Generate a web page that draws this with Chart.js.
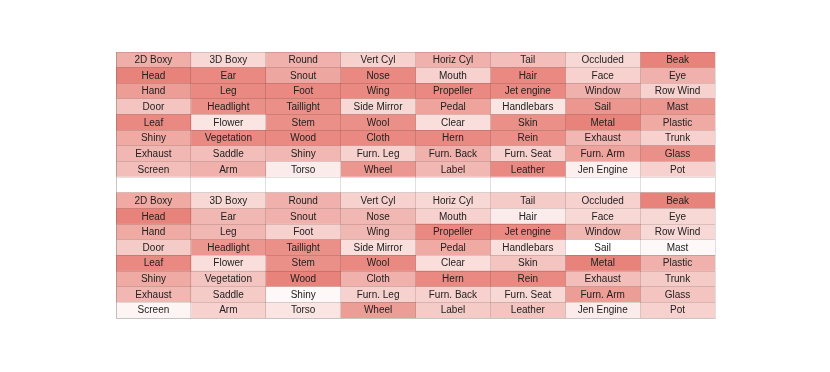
<!DOCTYPE html>
<html>
<head>
<meta charset="utf-8">
<script src="https://cdn.jsdelivr.net/npm/chart.js@4/dist/chart.umd.min.js"></script>
<style>
html,body{margin:0;padding:0;background:#fff;}
#wrap{width:830px;height:372px;}
</style>
</head>
<body>
<div id="wrap"><canvas id="c" width="830" height="372"></canvas></div>
<script>
// ---- DATA ----
const topLabels = [
  ["2D Boxy","3D Boxy","Round","Vert Cyl","Horiz Cyl","Tail","Occluded","Beak"],
  ["Head","Ear","Snout","Nose","Mouth","Hair","Face","Eye"],
  ["Hand","Leg","Foot","Wing","Propeller","Jet engine","Window","Row Wind"],
  ["Door","Headlight","Taillight","Side Mirror","Pedal","Handlebars","Sail","Mast"],
  ["Leaf","Flower","Stem","Wool","Clear","Skin","Metal","Plastic"],
  ["Shiny","Vegetation","Wood","Cloth","Hern","Rein","Exhaust","Trunk"],
  ["Exhaust","Saddle","Shiny","Furn. Leg","Furn. Back","Furn. Seat","Furn. Arm","Glass"],
  ["Screen","Arm","Torso","Wheel","Label","Leather","Jen Engine","Pot"]
];
const topValues = [
  [0.62,0.30,0.60,0.35,0.60,0.50,0.30,0.95],
  [0.95,0.90,0.68,0.90,0.35,0.90,0.35,0.60],
  [0.75,0.90,0.90,0.90,0.90,0.90,0.60,0.35],
  [0.45,0.85,0.85,0.30,0.70,0.20,0.80,0.80],
  [0.90,0.20,0.85,0.85,0.25,0.85,0.95,0.65],
  [0.65,0.90,0.90,0.90,0.90,0.85,0.55,0.35],
  [0.55,0.50,0.55,0.35,0.60,0.35,0.70,0.85],
  [0.50,0.60,0.15,0.80,0.55,0.90,0.12,0.35]
];
const bottomLabels = topLabels;
const bottomValues = [
  [0.65,0.30,0.60,0.35,0.30,0.40,0.35,0.95],
  [0.95,0.55,0.60,0.55,0.35,0.15,0.30,0.30],
  [0.65,0.55,0.35,0.55,0.90,0.90,0.55,0.30],
  [0.40,0.80,0.85,0.25,0.65,0.25,0.00,0.05],
  [0.90,0.25,0.85,0.90,0.25,0.45,0.95,0.60],
  [0.65,0.45,0.95,0.60,0.90,0.90,0.50,0.40],
  [0.55,0.40,0.05,0.35,0.35,0.30,0.75,0.45],
  [0.08,0.35,0.20,0.75,0.40,0.45,0.15,0.35]
];

// ---- BUILD ----
const NCOL = 8;
const lowColor = [255,255,255];
const highColor = [230,124,115];
function shade(v){
  const c = lowColor.map((l,i)=>Math.round(l + (highColor[i]-l)*v));
  return `rgb(${c[0]},${c[1]},${c[2]})`;
}
// rows: top 8, blank, bottom 8
const rowLabels = [];
const rowValues = [];
topLabels.forEach((r,i)=>{rowLabels.push(r); rowValues.push(topValues[i]);});
rowLabels.push(new Array(NCOL).fill("")); rowValues.push(new Array(NCOL).fill(0));
bottomLabels.forEach((r,i)=>{rowLabels.push(r); rowValues.push(bottomValues[i]);});
const rowIds = rowLabels.map((_,i)=>"r"+i);

const datasets = [];
for(let c=0;c<NCOL;c++){
  datasets.push({
    data: rowIds.map(()=>[c,c+1]),
    backgroundColor: rowValues.map(r=>shade(r[c])),
    borderWidth: 0,
    barPercentage: 1,
    categoryPercentage: 1
  });
}

const textPlugin = {
  id:'cellText',
  afterDraw(chart){
    const ctx = chart.ctx, xs = chart.scales.x, ys = chart.scales.y;
    ctx.save();
    ctx.font = '10px "Liberation Sans", Arial, sans-serif';
    ctx.fillStyle = '#222';
    ctx.textAlign = 'center';
    ctx.textBaseline = 'middle';
    rowLabels.forEach((r,ri)=>{
      const y = ys.getPixelForValue(ri);
      r.forEach((t,ci)=>{
        if(!t) return;
        const x = xs.getPixelForValue(ci+0.5);
        ctx.fillText(t, x, y+0.5);
      });
    });
    ctx.restore();
  }
};

const gridColor = 'rgba(0,0,0,0.12)';
new Chart(document.getElementById('c'),{
  type:'bar',
  data:{labels:rowIds, datasets},
  options:{
    indexAxis:'y',
    responsive:false,
    animation:false,
    devicePixelRatio:1,
    layout:{padding:{left:116,right:115,top:52,bottom:54}},
    plugins:{legend:{display:false},tooltip:{enabled:false}},
    scales:{
      x:{type:'linear',min:0,max:NCOL,
         ticks:{display:false,stepSize:1},
         grid:{color:gridColor,drawTicks:false,z:1},
         border:{color:gridColor,z:1}},
      y:{type:'category',offset:true,stacked:false,
         ticks:{display:false},
         grid:{color:gridColor,offset:true,drawTicks:false,z:1},
         border:{color:gridColor,z:1}}
    },
    datasets:{bar:{grouped:false}}
  },
  plugins:[textPlugin]
});
</script>
</body>
</html>
